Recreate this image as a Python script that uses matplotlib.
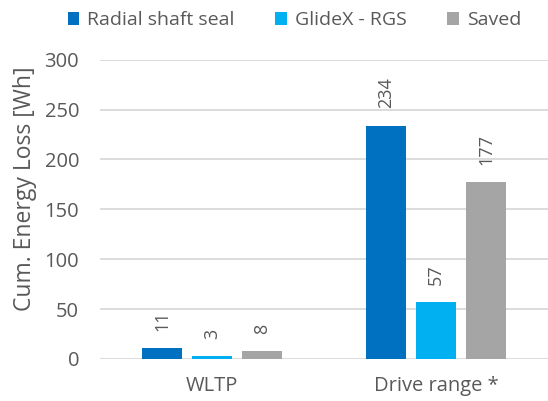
import numpy as np
import matplotlib.pyplot as plt

# --- data ---
categories = ['WLTP', 'Drive range *']
series_names = ['Radial shaft seal', 'GlideX - RGS', 'Saved']
radial_seal = [11, 234]
glidex = [3, 57]
saved = [8, 177]
y_ticks = [0, 50, 100, 150, 200, 250, 300]

colors = ['#0070C0', '#00B0F0', '#A5A5A5']
text_col = '#595959'

plt.rcParams['font.family'] = ['Open Sans', 'DejaVu Sans']

fig = plt.figure(figsize=(5.48, 4.01), dpi=100)
ax = fig.add_axes([0.1825, 0.105, 0.8175, 0.746])

x = np.arange(len(categories))
width = 0.176
offset = 0.223
values = [radial_seal, glidex, saved]

for i, (name, vals) in enumerate(zip(series_names, values)):
    pos = x + (i - 1) * offset
    bars = ax.bar(pos, vals, width, color=colors[i], label=name, zorder=3)
    # value labels, rotated like the original
    for b, v in zip(bars, vals):
        ax.annotate(str(v), (b.get_x() + b.get_width() / 2, b.get_height()),
                    xytext=(0, 12.5), textcoords='offset points',
                    ha='center', va='bottom', rotation=90,
                    fontsize=13, color=text_col)

ax.set_xlim(-0.5, 1.5)
ax.set_ylim(0, 300)
ax.set_yticks(y_ticks)
ax.set_xticks(x)
ax.set_xticklabels(categories)
ax.tick_params(axis='y', length=0, labelsize=14.5, colors=text_col, pad=15)
ax.tick_params(axis='x', length=0, labelsize=14.5, colors=text_col, pad=12)
ax.grid(True, axis='y', color='#D9D9D9', linewidth=1.3, zorder=0)
for s in ax.spines.values():
    s.set_visible(False)
ax.set_ylabel('Cum. Energy Loss [Wh]', fontsize=16.5, color=text_col)
ax.yaxis.set_label_coords(-0.14, 0.57)

fig.legend(loc='upper center', bbox_to_anchor=(0.537, 1.015), ncol=3, frameon=False,
           fontsize=14, labelcolor=text_col, handlelength=0.6, handleheight=0.6,
           handletextpad=0.4, columnspacing=2.1)

fig.savefig('out.png', dpi=100)
